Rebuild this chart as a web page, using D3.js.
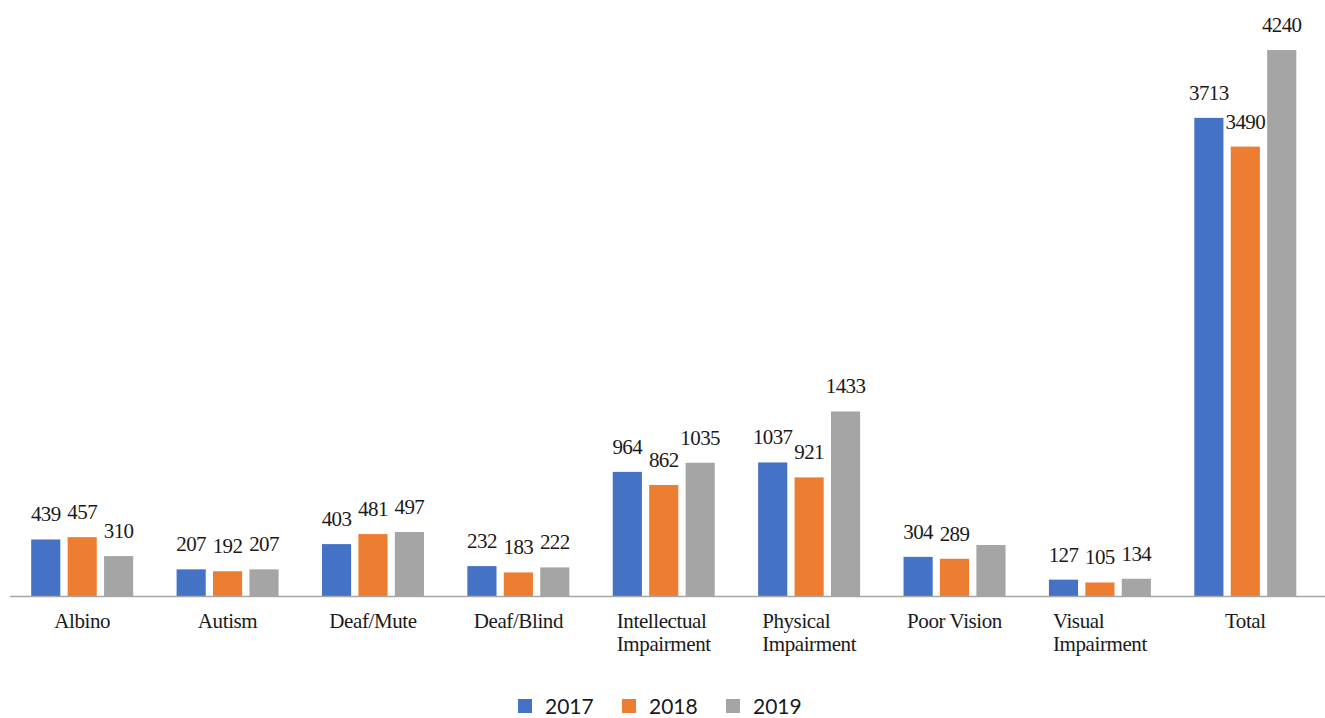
<!DOCTYPE html>
<html>
<head>
<meta charset="utf-8">
<script src="https://cdn.jsdelivr.net/npm/d3@7"></script>
<style>
  html, body { margin: 0; padding: 0; background: #fff; }
  svg { display: block; }
</style>
</head>
<body>
<svg id="chart" width="1325" height="718"></svg>
<script>
// Categories (line breaks mark wrapped axis labels)
const categories = [
  ["Albino"],
  ["Autism"],
  ["Deaf/Mute"],
  ["Deaf/Blind"],
  ["Intellectual", "Impairment"],
  ["Physical", "Impairment"],
  ["Poor Vision"],
  ["Visual", "Impairment"],
  ["Total"]
];
const years = ["2017", "2018", "2019"];
const values2017 = [439, 207, 403, 232, 964, 1037, 304, 127, 3713];
const values2018 = [457, 192, 481, 183, 862, 921, 289, 105, 3490];
const values2019 = [310, 207, 497, 222, 1035, 1433, 396, 134, 4240];
// Poor Vision 2019 has no data label on the chart
const labelShown2019 = [true, true, true, true, true, true, false, true, true];
const colors = ["#4472C4", "#ED7D31", "#A5A5A5"];

const series = [values2017, values2018, values2019];
const labelShown = [categories.map(() => true), categories.map(() => true), labelShown2019];

const svg = d3.select("#chart");
const baseY = 596;
const serif = "'Liberation Serif', 'DejaVu Serif', serif";

const x0 = d3.scaleBand()
  .domain(d3.range(categories.length))
  .range([9.5, 1318])
  .paddingInner(0)
  .paddingOuter(0);

const x1 = d3.scaleBand()
  .domain(years)
  .range([x0.bandwidth() / 2 - 51, x0.bandwidth() / 2 + 51])
  .paddingInner(0.2)
  .paddingOuter(0);

const y = d3.scaleLinear()
  .domain([0, 4500])
  .range([baseY, baseY - 4500 * 0.12877]);

// Bars and value labels
years.forEach((yr, si) => {
  const g = svg.append("g");
  g.selectAll("rect")
    .data(series[si])
    .join("rect")
    .attr("x", (d, i) => x0(i) + x1(yr))
    .attr("y", d => y(d))
    .attr("width", x1.bandwidth())
    .attr("height", d => baseY - y(d))
    .attr("fill", colors[si]);

  g.selectAll("text")
    .data(series[si].map((v, i) => ({ v, i })).filter(d => labelShown[si][d.i]))
    .join("text")
    .attr("x", d => x0(d.i) + x1(yr) + x1.bandwidth() / 2)
    .attr("y", d => y(d.v) - 18)
    .attr("text-anchor", "middle")
    .attr("font-family", serif)
    .attr("font-size", 21)
    .attr("letter-spacing", -0.6)
    .attr("fill", "#1a1a1a")
    .text(d => d.v);
});

// Category axis line
svg.append("line")
  .attr("x1", 10).attr("x2", 1325)
  .attr("y1", baseY + 0.5).attr("y2", baseY + 0.5)
  .attr("stroke", "#a6a6a6")
  .attr("stroke-width", 1.5);

// Category labels: lines left-aligned inside a centred block
categories.forEach((lines, i) => {
  const cx = x0(i) + x0.bandwidth() / 2;
  const t = svg.append("text")
    .attr("font-family", serif)
    .attr("font-size", 21)
    .attr("letter-spacing", -0.4)
    .attr("fill", "#1a1a1a");
  const spans = lines.map((ln, li) =>
    t.append("tspan").attr("y", 628 + li * 23).text(ln));
  const w = d3.max(spans, s => s.node().getComputedTextLength());
  spans.forEach(s => s.attr("x", cx - w / 2));
});

// Legend
const legend = svg.append("g");
years.forEach((yr, i) => {
  const lx = 518 + i * 104;
  legend.append("rect")
    .attr("x", lx).attr("y", 699)
    .attr("width", 14).attr("height", 14)
    .attr("fill", colors[i]);
  legend.append("text")
    .attr("x", lx + 27).attr("y", 714)
    .attr("font-family", "Lato, 'Open Sans', sans-serif")
    .attr("font-size", 21)
    .attr("fill", "#1a1a1a")
    .text(yr);
});
</script>
</body>
</html>
